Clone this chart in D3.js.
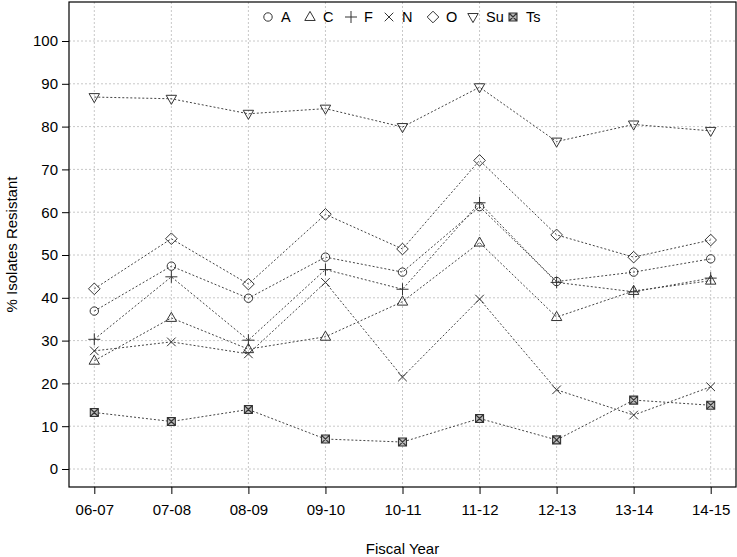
<!DOCTYPE html>
<html><head><meta charset="utf-8">
<script src="https://cdn.jsdelivr.net/npm/d3@7"></script>
<style>body{margin:0;background:#fff}svg{display:block}text{font-family:"Liberation Sans",Arial,sans-serif;fill:#000}</style>
</head><body><div id="chart"></div>
<script>
const years = ["06-07","07-08","08-09","09-10","10-11","11-12","12-13","13-14","14-15"];
const yTicks = [0,10,20,30,40,50,60,70,80,90,100];
const seriesNames = ["A","C","F","N","O","Su","Ts"];
const A  = [36.9,47.4,39.9,49.5,46.0,61.3,43.8,46.0,49.1];
const C  = [25.3,35.3,28.0,30.9,39.1,52.9,35.5,41.6,44.0];
const F  = [30.3,44.9,30.1,46.6,42.0,62.2,43.6,41.4,44.6];
const N  = [27.6,29.7,26.9,43.6,21.5,39.7,18.5,12.6,19.2];
const O  = [42.1,53.8,43.2,59.5,51.4,72.1,54.7,49.5,53.5];
const Su = [86.9,86.5,83.0,84.2,79.9,89.2,76.5,80.5,79.0];
const Ts = [13.2,11.1,13.9,7.0,6.3,11.8,6.8,16.1,14.9];
const seriesValues = [A,C,F,N,O,Su,Ts];
const shapes = ["circle","triangle","plus","cross","diamond","invtriangle","squarex"];

const W=737,H=557;
const L=69,R=736,T=2,B=487;
const svg=d3.select("#chart").append("svg").attr("width",W).attr("height",H);
const x=d3.scalePoint().domain(years).range([94.3,710.7]);
const y=d3.scaleLinear().domain([0,100]).range([469,41]);

// grid
const g=svg.append("g");
g.selectAll(".gx").data(years).enter().append("line")
 .attr("x1",d=>x(d)).attr("x2",d=>x(d)).attr("y1",T).attr("y2",B)
 .attr("stroke","#c8c8c8").attr("stroke-dasharray","2,2");
g.selectAll(".gy").data(yTicks).enter().append("line")
 .attr("x1",L).attr("x2",R).attr("y1",d=>y(d)).attr("y2",d=>y(d))
 .attr("stroke","#c8c8c8").attr("stroke-dasharray","2,2");

function sym(sel,shape,cx,cy){
  const s="#333",sw=1;
  if(shape==="circle") sel.append("circle").attr("cx",cx).attr("cy",cy).attr("r",4.2).attr("fill","none").attr("stroke",s).attr("stroke-width",sw);
  else if(shape==="triangle"){const r=5.6;sel.append("path").attr("d",`M${cx},${cy-r}L${cx+r*0.93},${cy+r*0.62}L${cx-r*0.93},${cy+r*0.62}Z`).attr("fill","none").attr("stroke",s).attr("stroke-width",sw);}
  else if(shape==="invtriangle"){const r=5.6;sel.append("path").attr("d",`M${cx},${cy+r}L${cx+r*0.93},${cy-r*0.62}L${cx-r*0.93},${cy-r*0.62}Z`).attr("fill","none").attr("stroke",s).attr("stroke-width",sw);}
  else if(shape==="plus"){const r=6;sel.append("path").attr("d",`M${cx-r},${cy}H${cx+r}M${cx},${cy-r}V${cy+r}`).attr("stroke",s).attr("stroke-width",sw).attr("fill","none");}
  else if(shape==="cross"){const r=4.3;sel.append("path").attr("d",`M${cx-r},${cy-r}L${cx+r},${cy+r}M${cx-r},${cy+r}L${cx+r},${cy-r}`).attr("stroke",s).attr("stroke-width",sw).attr("fill","none");}
  else if(shape==="diamond"){const r=5.8;sel.append("path").attr("d",`M${cx},${cy-r}L${cx+r},${cy}L${cx},${cy+r}L${cx-r},${cy}Z`).attr("fill","none").attr("stroke",s).attr("stroke-width",sw);}
  else if(shape==="squarex"){const r=4;sel.append("path").attr("d",`M${cx-r},${cy-r}H${cx+r}V${cy+r}H${cx-r}Z M${cx-r},${cy-r}L${cx+r},${cy+r}M${cx-r},${cy+r}L${cx+r},${cy-r}`).attr("fill","#bbb").attr("stroke",s).attr("stroke-width",sw*1.1);}
}

const line=d3.line().x((d,i)=>x(years[i])).y(d=>y(d));
seriesValues.forEach((vals,k)=>{
  svg.append("path").datum(vals).attr("d",line).attr("fill","none")
   .attr("stroke","#444").attr("stroke-width",1).attr("stroke-dasharray","2,2");
});
seriesValues.forEach((vals,k)=>{
  const gg=svg.append("g");
  vals.forEach((v,i)=>sym(gg,shapes[k],x(years[i]),y(v)));
});

// box
svg.append("rect").attr("x",L).attr("y",T).attr("width",R-L).attr("height",B-T).attr("fill","none").attr("stroke","#000").attr("stroke-width",1.2);

// axes
const yAxis=svg.append("g").attr("transform",`translate(${L},0)`).call(d3.axisLeft(y).tickValues(yTicks).tickSize(7).tickPadding(4));
const xAxis=svg.append("g").attr("transform",`translate(0,${B})`).call(d3.axisBottom(x).tickSize(7).tickPadding(10));
[yAxis,xAxis].forEach(a=>{a.select(".domain").remove();a.selectAll("line").attr("stroke","#000");a.selectAll("text").style("font-size","15px").style("font-family","Liberation Sans, Arial, sans-serif").attr("fill","#000");});

svg.append("text").attr("x",(L+R)/2).attr("y",554).attr("text-anchor","middle").style("font-size","15px").text("Fiscal Year");
svg.append("text").attr("transform",`translate(17,${(T+B)/2}) rotate(-90)`).attr("text-anchor","middle").style("font-size","15px").text("% Isolates Resistant");

// legend
const legX=[268,310,351,389,433,473,513];
seriesNames.forEach((n,k)=>{
  const lg=svg.append("g");
  sym(lg,shapes[k],legX[k],17);
  lg.append("text").attr("x",legX[k]+13).attr("y",22).style("font-size","14.5px").text(n);
});
</script></body></html>
